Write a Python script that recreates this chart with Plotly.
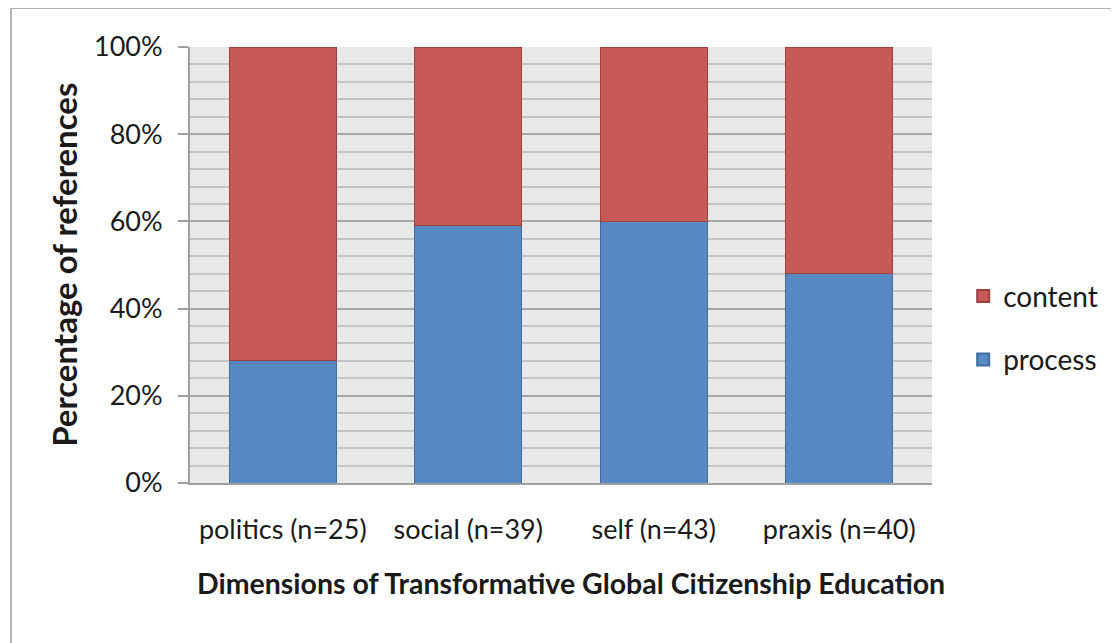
import plotly.graph_objects as go

categories = ["politics (n=25)", "social (n=39)", "self (n=43)", "praxis (n=40)"]
process_pct = [28, 59, 60, 48]
content_pct = [72, 41, 40, 52]
y_ticks = [0, 20, 40, 60, 80, 100]
y_tick_labels = ["0%", "20%", "40%", "60%", "80%", "100%"]

FONT = "Lato"
fig = go.Figure()
fig.add_trace(go.Bar(x=categories, y=process_pct, name="process", legendgroup="p", legendrank=2,
                     marker=dict(color="#5889c3", line=dict(color="#3f6d9e", width=1))))
fig.add_trace(go.Bar(x=categories, y=content_pct, name="content", legendgroup="c", legendrank=1,
                     marker=dict(color="#c55a56", line=dict(color="#9c4340", width=1))))

# page body has an 8px margin: compensate so plot area lands at x 190-932, y 47-483
fig.update_layout(
    width=1119, height=643,
    barmode="stack", bargap=0.423,
    paper_bgcolor="white", plot_bgcolor="#e8e8e8",
    margin=dict(l=182, r=195, t=39, b=168, autoexpand=False),
    font=dict(family=FONT, color="#1a1a1a", size=27),
    legend=dict(traceorder="grouped", x=1.042, y=0.356, xanchor="left", yanchor="middle",
                font=dict(size=28, family=FONT), itemsizing="constant",
                tracegroupgap=24, bgcolor="rgba(0,0,0,0)"),
    showlegend=True,
)
fig.update_yaxes(
    range=[0, 100], tickvals=y_ticks, ticktext=y_tick_labels, automargin=False,
    showgrid=True, gridcolor="#a6a6a6", gridwidth=2,
    minor=dict(dtick=4, showgrid=True, gridcolor="#c4c4c4", gridwidth=2),
    showline=True, linecolor="#a0a0a0", linewidth=2,
    ticks="outside", ticklen=10, tickcolor="#a0a0a0", tickwidth=2,
    tickfont=dict(size=27, family=FONT), ticklabelstandoff=10,
    zeroline=False,
)
fig.update_xaxes(
    showline=True, linecolor="#a0a0a0", linewidth=2, automargin=False,
    ticks="", tickfont=dict(size=27, family=FONT), ticklabelstandoff=22,
)
fig.add_annotation(text="<b>Percentage of references</b>", textangle=-90,
                   xref="paper", yref="paper", x=-0.17, y=0.5, xanchor="center", yanchor="middle",
                   showarrow=False, font=dict(size=33, family=FONT, color="#1a1a1a"))
fig.add_annotation(text="<b>Dimensions of Transformative Global Citizenship Education</b>",
                   xref="paper", yref="paper", x=0.513, y=-0.229, xanchor="center", yanchor="middle",
                   showarrow=False, font=dict(size=28.5, family=FONT, color="#1a1a1a"))
# outer frame (left and top edges)
fig.add_shape(type="line", xref="paper", yref="paper", x0=-0.2412, x1=-0.2412, y0=1.0894, y1=-0.39,
              line=dict(color="#b4b4b4", width=2))
fig.add_shape(type="line", xref="paper", yref="paper", x0=-0.2412, x1=1.27, y0=1.0894, y1=1.0894,
              line=dict(color="#b4b4b4", width=2))

fig.write_html("out.html")
